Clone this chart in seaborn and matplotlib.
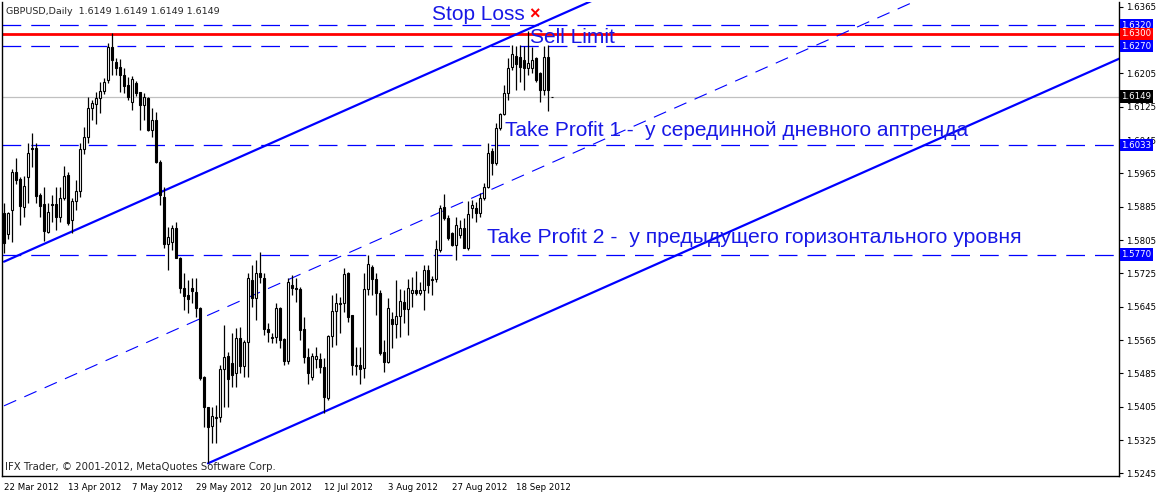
import numpy as np
import pandas as pd
import seaborn as sns
import matplotlib.pyplot as plt
import matplotlib.transforms as mtransforms

# daily GBPUSD candles (first bar = 22 Mar 2012)
opens = [
    1.5871, 1.5819, 1.5877, 1.5969, 1.5951, 1.5885, 1.5957, 1.6026, 1.6025, 1.5913,
    1.5891, 1.5825, 1.5891, 1.5891, 1.5861, 1.5905, 1.5960, 1.5853, 1.5899, 1.5923,
    1.6023, 1.6053, 1.6121, 1.6131, 1.6145, 1.6163, 1.6189, 1.6269, 1.6233, 1.6221,
    1.6201, 1.6177, 1.6137, 1.6183, 1.6161, 1.6129, 1.6145, 1.6069, 1.6093, 1.5993,
    1.5909, 1.5795, 1.5801, 1.5835, 1.5761, 1.5691, 1.5673, 1.5691, 1.5681, 1.5641,
    1.5476, 1.5405, 1.5359, 1.5379, 1.5381, 1.5495, 1.5527, 1.5511, 1.5485, 1.5569,
    1.5503, 1.5561, 1.5709, 1.5665, 1.5725, 1.5715, 1.5591, 1.5569, 1.5573, 1.5641,
    1.5567, 1.5515, 1.5697, 1.5691, 1.5687, 1.5591, 1.5525, 1.5477, 1.5519, 1.5519,
    1.5501, 1.5425, 1.5575, 1.5635, 1.5651, 1.5653, 1.5725, 1.5625, 1.5505, 1.5505,
    1.5497, 1.5687, 1.5739, 1.5711, 1.5678, 1.5535, 1.5513, 1.5615, 1.5603, 1.5623,
    1.5657, 1.5639, 1.5677, 1.5685, 1.5677, 1.5685, 1.5733, 1.5711, 1.5711, 1.5781,
    1.5883, 1.5857, 1.5821, 1.5793, 1.5817, 1.5835, 1.5787, 1.5881, 1.5883, 1.5869,
    1.5905, 1.5933, 1.6019, 1.5989, 1.6073, 1.6107, 1.6157, 1.6221, 1.6247, 1.6245,
    1.6237, 1.6217, 1.6217, 1.6241, 1.6205, 1.6165, 1.6245, 1.6149]
highs = [
    1.5893, 1.5873, 1.5975, 1.6001, 1.5957, 1.5959, 1.6037, 1.6063, 1.6037, 1.5917,
    1.5933, 1.5893, 1.5913, 1.5933, 1.5933, 1.5983, 1.5969, 1.5905, 1.5949, 1.6037,
    1.6077, 1.6149, 1.6141, 1.6161, 1.6185, 1.6195, 1.6279, 1.6301, 1.6242, 1.6239,
    1.6218, 1.6197, 1.6199, 1.6187, 1.6161, 1.6157, 1.6149, 1.6122, 1.6113, 1.5997,
    1.5933, 1.5837, 1.5841, 1.5849, 1.5765, 1.5725, 1.5709, 1.5713, 1.5715, 1.5645,
    1.5479, 1.5405, 1.5405, 1.5409, 1.5505, 1.5601, 1.5537, 1.5582, 1.5593, 1.5597,
    1.5565, 1.5727, 1.5745, 1.5757, 1.5777, 1.5725, 1.5605, 1.5581, 1.5653, 1.5645,
    1.5569, 1.5713, 1.5721, 1.5713, 1.5693, 1.5621, 1.5547, 1.5533, 1.5549, 1.5533,
    1.5521, 1.5577, 1.5673, 1.5677, 1.5669, 1.5737, 1.5729, 1.5625, 1.5549, 1.5549,
    1.5725, 1.5769, 1.5745, 1.5725, 1.5685, 1.5565, 1.5665, 1.5633, 1.5709, 1.5687,
    1.5685, 1.5711, 1.5717, 1.5731, 1.5705, 1.5745, 1.5745, 1.5719, 1.5805, 1.5889,
    1.5915, 1.5865, 1.5825, 1.5861, 1.5853, 1.5857, 1.5899, 1.5901, 1.5897, 1.5917,
    1.5941, 1.6037, 1.6025, 1.6085, 1.6109, 1.6177, 1.6241, 1.6273, 1.6271, 1.6273,
    1.6271, 1.6307, 1.6269, 1.6245, 1.6209, 1.6271, 1.6273, 1.6149]
lows = [
    1.5773, 1.5807, 1.5801, 1.5939, 1.5841, 1.5861, 1.5893, 1.5981, 1.5893, 1.5861,
    1.5803, 1.5821, 1.5849, 1.5829, 1.5849, 1.5901, 1.5841, 1.5821, 1.5877, 1.5909,
    1.6011, 1.6037, 1.6093, 1.6083, 1.6109, 1.6155, 1.6181, 1.6201, 1.6201, 1.6161,
    1.6158, 1.6141, 1.6117, 1.6151, 1.6069, 1.6093, 1.6066, 1.6053, 1.5989, 1.5889,
    1.5785, 1.5733, 1.5781, 1.5761, 1.5677, 1.5637, 1.5629, 1.5653, 1.5621, 1.5469,
    1.5357, 1.5269, 1.5319, 1.5318, 1.5369, 1.5405, 1.5405, 1.5453, 1.5453, 1.5485,
    1.5477, 1.5477, 1.5645, 1.5613, 1.5701, 1.5577, 1.5561, 1.5557, 1.5557, 1.5545,
    1.5505, 1.5507, 1.5673, 1.5657, 1.5565, 1.5509, 1.5459, 1.5469, 1.5497, 1.5485,
    1.5389, 1.5421, 1.5549, 1.5553, 1.5581, 1.5633, 1.5609, 1.5481, 1.5481, 1.5459,
    1.5473, 1.5673, 1.5673, 1.5625, 1.5529, 1.5489, 1.5511, 1.5545, 1.5569, 1.5573,
    1.5605, 1.5577, 1.5645, 1.5673, 1.5673, 1.5637, 1.5677, 1.5673, 1.5704, 1.5776,
    1.5853, 1.5805, 1.5791, 1.5757, 1.5809, 1.5785, 1.5781, 1.5857, 1.5849, 1.5861,
    1.5901, 1.5929, 1.5961, 1.5985, 1.6069, 1.6105, 1.6141, 1.6213, 1.6165, 1.6185,
    1.6165, 1.6201, 1.6205, 1.6185, 1.6137, 1.6153, 1.6115, 1.6149]
closes = [
    1.5797, 1.5869, 1.5969, 1.5949, 1.5887, 1.5935, 1.6013, 1.6023, 1.5911, 1.5887,
    1.5827, 1.5873, 1.5888, 1.5861, 1.5905, 1.5959, 1.5847, 1.5899, 1.5923, 1.6023,
    1.6053, 1.6121, 1.6133, 1.6145, 1.6163, 1.6183, 1.6267, 1.6237, 1.6219, 1.6201,
    1.6175, 1.6148, 1.6191, 1.6159, 1.6129, 1.6149, 1.6069, 1.6093, 1.5993, 1.5913,
    1.5795, 1.5813, 1.5833, 1.5763, 1.5691, 1.5671, 1.5663, 1.5683, 1.5641, 1.5473,
    1.5405, 1.5357, 1.5383, 1.5381, 1.5495, 1.5525, 1.5471, 1.5481, 1.5569, 1.5503,
    1.5561, 1.5715, 1.5667, 1.5725, 1.5717, 1.5591, 1.5585, 1.5573, 1.5641, 1.5565,
    1.5515, 1.5705, 1.5689, 1.5687, 1.5589, 1.5525, 1.5487, 1.5527, 1.5527, 1.5501,
    1.5429, 1.5575, 1.5635, 1.5653, 1.5653, 1.5723, 1.5620, 1.5505, 1.5503, 1.5495,
    1.5687, 1.5747, 1.5711, 1.5677, 1.5534, 1.5513, 1.5641, 1.5603, 1.5623, 1.5659,
    1.5639, 1.5689, 1.5685, 1.5677, 1.5685, 1.5733, 1.5697, 1.5709, 1.5783, 1.5883,
    1.5857, 1.5809, 1.5793, 1.5841, 1.5833, 1.5787, 1.5867, 1.5889, 1.5869, 1.5905,
    1.5933, 1.6013, 1.5989, 1.6073, 1.6107, 1.6157, 1.6219, 1.6251, 1.6227, 1.6221,
    1.6217, 1.6231, 1.6237, 1.6189, 1.6165, 1.6243, 1.6165, 1.6149]

current_price = 1.6149

# horizontal levels (price, colour, dashed?)
level_prices = [1.6320, 1.6300, 1.6270, 1.6033, 1.5770]
level_colors = ['#0000FF', '#FF0000', '#0000FF', '#0000FF', '#0000FF']
level_dashed = [True, False, True, True, True]

# trend channel anchors (bar index, price)
upper_bars, upper_prices = [0, 150], [1.5753, 1.6392]
lower_bars, lower_prices = [51, 279], [1.5269, 1.6241]
mid_bars, mid_prices = [0, 240], [1.5407, 1.6430]

# right-hand price boxes
box_prices = [1.6320, 1.6300, 1.6270, 1.6149, 1.6033, 1.5770]
box_colors = ['#0000FF', '#FF0000', '#0000FF', '#000000', '#0000FF', '#0000FF']

y_ticks = [1.6365, 1.6285, 1.6205, 1.6125, 1.6045, 1.5965, 1.5885, 1.5805,
           1.5725, 1.5645, 1.5565, 1.5485, 1.5405, 1.5325, 1.5245]
hidden_ticks = [1.6285]  # covered by the level boxes on the terminal

dates = pd.bdate_range('2012-03-22', periods=len(closes))
df = pd.DataFrame({'open': opens, 'high': highs, 'low': lows, 'close': closes})
df['bar'] = np.arange(len(df))
df['up'] = df['close'] >= df['open']

sns.set_style('white')
plt.rcParams['font.family'] = ['DejaVu Sans']

fig = plt.figure(figsize=(11.57, 4.93), dpi=100)
ax = fig.add_axes([2 / 1157, 17 / 493, 1117 / 1157, 474 / 493])

# current price line
ax.axhline(current_price, color='#C0C0C0', lw=0.9, zorder=1)

# levels
for p, c, d in zip(level_prices, level_colors, level_dashed):
    if d:
        ax.axhline(p, color=c, lw=0.9, linestyle=(0, (15, 8)), zorder=2)
    else:
        ax.axhline(p, color=c, lw=2.0, zorder=2)

# channel
sns.lineplot(x=upper_bars, y=upper_prices, ax=ax, color='#0000FF', lw=1.6, zorder=2)
sns.lineplot(x=lower_bars, y=lower_prices, ax=ax, color='#0000FF', lw=1.6, zorder=2)
ax.plot(mid_bars, mid_prices, color='#0000FF', lw=0.8, linestyle=(0, (12, 8)), zorder=2)

# candles
ax.vlines(df['bar'], df['low'], df['high'], color='black', lw=0.9, zorder=3)
body_lo = df[['open', 'close']].min(axis=1)
body_h = (df['close'] - df['open']).abs()
ax.bar(df['bar'], body_h, bottom=body_lo, width=0.72,
       color=np.where(df['up'], 'white', 'black'), edgecolor='black',
       linewidth=0.8, zorder=4)

ax.set_xlim(-0.5, 278.75)
ax.set_ylim(1.52386, 1.63762)

# axes styling
for s in ['left', 'right', 'bottom']:
    ax.spines[s].set_color('black')
    ax.spines[s].set_linewidth(1.0)
ax.spines['top'].set_visible(False)

ax.yaxis.tick_right()
ax.set_yticks(y_ticks)
ax.set_yticklabels(['' if v in hidden_ticks else f'{v:.4f}' for v in y_ticks])
xt = list(range(0, len(dates), 16))
ax.set_xticks(xt)
ax.set_xticklabels([f'{dates[i].day} {dates[i]:%b %Y}' for i in xt])
for lbl in ax.get_xticklabels():
    lbl.set_ha('left')
ax.tick_params(axis='both', direction='out', length=3, width=0.8,
               labelsize=6.2, colors='black', pad=2)
ax.set_xlabel('')
ax.set_ylabel('')

# price boxes on the right
trans = mtransforms.blended_transform_factory(ax.transAxes, ax.transData)
for p, c in zip(box_prices, box_colors):
    ax.text(1.0022, p, f'{p:.4f}', transform=trans, ha='left', va='center',
            color='white', fontsize=6.2, clip_on=False, zorder=10,
            bbox=dict(boxstyle='square,pad=0.2', fc=c, ec='none'))

# annotations
txt_color = '#1818E6'
afont = ['Liberation Sans', 'DejaVu Sans']
ax.text(107, 1.6345, 'Stop Loss', color=txt_color, fontsize=15, va='center', family=afont, zorder=6)
ax.text(132.75, 1.6345, '×', color='#FF0000', fontsize=13, fontweight='bold',
        va='center', ha='center', family=afont, zorder=6)
ax.text(131.5, 1.6292, 'Sell Limit', color=txt_color, fontsize=15, va='center', family=afont, zorder=6)
ax.text(125.25, 1.6069, 'Take Profit 1 -  у серединной дневного аптренда',
        color=txt_color, fontsize=15, va='center', family=afont, zorder=6)
ax.text(120.75, 1.5812, 'Take Profit 2 -  у предыдущего горизонтального уровня',
        color=txt_color, fontsize=15.2, va='center', family=afont, zorder=6)

fig.text(6 / 1157, 1 - 11 / 493, 'GBPUSD,Daily  1.6149 1.6149 1.6149 1.6149',
         fontsize=6.8, va='center', ha='left')
fig.text(5 / 1157, 1 - 467 / 493, 'IFX Trader, © 2001-2012, MetaQuotes Software Corp.',
         fontsize=7.3, va='center', ha='left')

fig.savefig('out.png', dpi=100)
